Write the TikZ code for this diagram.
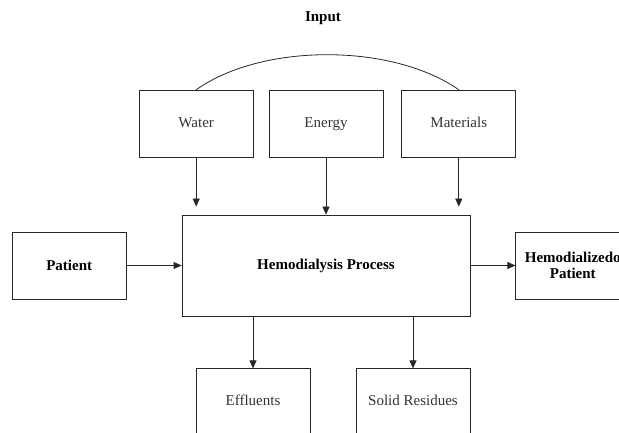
\documentclass[tikz,border=0pt]{standalone}
\usepackage{fontspec}
\setmainfont{Liberation Serif}
\usetikzlibrary{arrows.meta, positioning}

\begin{document}
\begin{tikzpicture}[
  x=1pt, y=-1pt,
  node distance=57pt and 15pt,
  box/.style={rectangle, draw=black!85, line width=0.8pt,
             minimum width=114pt, minimum height=67pt, align=center,
             inner sep=2pt, font=\fontsize{15}{17}\selectfont, text=black!80},
  inbox/.style={box, text height=10pt, text depth=3pt},
  sidebox/.style={box, font=\fontsize{15}{16}\selectfont\bfseries, text=black},
  outbox/.style={box, text height=10pt, text depth=3pt},
  procbox/.style={box, minimum width=288pt, minimum height=101pt,
             font=\fontsize{15}{17}\selectfont\bfseries, text=black},
  arrow/.style={-{Triangle[length=8pt, width=7pt]}, line width=0.8pt, color=black!85}
]
\useasboundingbox (0,0) rectangle (619,433);
\clip (0,0) rectangle (619,433);

% central process
\node[procbox] (process) at (326,265.5) {Hemodialysis Process};

% inputs
\node[inbox, above=57pt of process] (energy) {Energy};
\node[inbox, left=15pt of energy] (water) {Water};
\node[inbox, right=18pt of energy] (materials) {Materials};
\node[font=\fontsize{15}{17}\selectfont\bfseries] (input) at (323,18) {Input};

% patient in / out
\node[sidebox, left=55pt of process] (patient) {Patient};
\node[sidebox, right=45pt of process] (treated) {Hemodializedo\\Patient};

% outputs
\node[outbox, below=52pt of process.south, xshift=-73pt, anchor=north] (effluents) {Effluents};
\node[outbox, below=52pt of process.south, xshift=87pt, anchor=north] (residues) {Solid Residues};

\draw[line width=0.8pt, black!85] (water.north) .. controls (262,43) and (392,43) .. (materials.north);

\draw[arrow] (water.south) -- ([yshift=8pt]water.south |- process.north);
\draw[arrow] (energy.south) -- (process.north -| energy.south);
\draw[arrow] (materials.south) -- ([yshift=8pt]materials.south |- process.north);
\draw[arrow] (patient.east) -- (patient.east -| process.west);
\draw[arrow] (process.east |- treated.west) -- (treated.west);
\draw[arrow] (process.south -| effluents.north) -- (effluents.north);
\draw[arrow] (process.south -| residues.north) -- (residues.north);

\end{tikzpicture}
\end{document}
